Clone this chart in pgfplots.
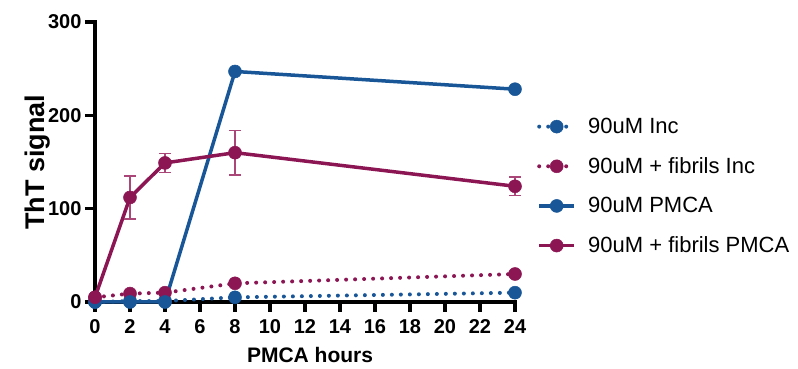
\documentclass[border=0pt]{standalone}
\usepackage{fontspec}
\setmainfont{Liberation Sans}
\usepackage{pgfplots}
\pgfplotsset{compat=1.18}
\definecolor{cblue}{RGB}{24,86,152}
\definecolor{cmar}{RGB}{140,22,84}
\definecolor{cerr}{RGB}{170,70,120}
\begin{document}
\begin{tikzpicture}
\useasboundingbox (-95pt,-67pt) rectangle (703pt,302pt);
\begin{axis}[
  scale only axis, width=420pt, height=280pt,
  xmin=0, xmax=24, ymin=0, ymax=300,
  clip=false,
  axis x line*=bottom, axis y line*=left,
  axis line style={line width=3.5pt, line cap=rect},
  xtick={0,2,...,24}, ytick={0,100,200,300},
  tick align=outside, major tick length=10pt,
  every tick/.style={black, line width=3.5pt},
  /pgf/number format/assume math mode=true,
  ticklabel style={font=\bfseries\fontsize{20}{20}\selectfont},
  xticklabel style={yshift=-4pt},
  xlabel={PMCA hours}, ylabel={ThT signal},
  xlabel style={font=\bfseries\fontsize{21}{21}\selectfont, at={(axis description cs:0.512,-0.19)}, anchor=center},
  ylabel style={font=\bfseries\fontsize{27}{27}\selectfont, at={(axis description cs:-0.136,0.5)}, anchor=center},
  legend cell align=left,
  legend style={draw=none, fill=none, at={(442pt,186pt)}, anchor=north west,
    font=\fontsize{22}{22}\selectfont, row sep=18.5pt, inner sep=0pt,
    nodes={inner sep=2pt}, /tikz/column 1/.style={column sep=10pt}},
  legend image code/.code={\draw[mark repeat=2,mark phase=2,#1] plot coordinates {(0pt,0pt)(17.5pt,0pt)(35pt,0pt)};},
  every axis plot/.append style={line width=3.5pt},
]
% 90uM Inc
\addplot[cblue, line width=4pt, dash pattern=on 0pt off 9pt, line cap=round, mark=*, mark size=6.5pt, mark options={solid, fill=cblue, line width=0.5pt}]
  coordinates {(0,0) (2,1) (4,1) (8,5) (24,10)};
\addlegendentry{90uM Inc}
% 90uM + fibrils Inc
\addplot[cmar, line width=4pt, dash pattern=on 0pt off 9pt, line cap=round, mark=*, mark size=6.5pt, mark options={solid, fill=cmar, line width=0.5pt}]
  coordinates {(0,5) (2,9) (4,10) (8,20) (24,30)};
\addlegendentry{90uM + fibrils Inc}
% 90uM PMCA
\addplot[cblue, mark=*, mark size=6.5pt, mark options={solid, fill=cblue, line width=0.5pt}]
  coordinates {(0,0) (2,0) (4,0) (8,247) (24,228)};
\addlegendentry{90uM PMCA}
% 90uM + fibrils PMCA
\addplot[cmar, mark=*, mark size=6.5pt, mark options={solid, fill=cmar, line width=0.5pt},
  error bars/.cd, y dir=both, y explicit,
  error bar style={cerr, line width=1.5pt},
  error mark options={rotate=90, mark size=6pt, line width=1.5pt, cerr}]
  table[x=x, y=y, y error=e] {
x y e
0 5 3
2 112 23
4 149 10
8 160 24
24 124 10
};
\addlegendentry{90uM + fibrils PMCA}
\end{axis}
\end{tikzpicture}
\end{document}
